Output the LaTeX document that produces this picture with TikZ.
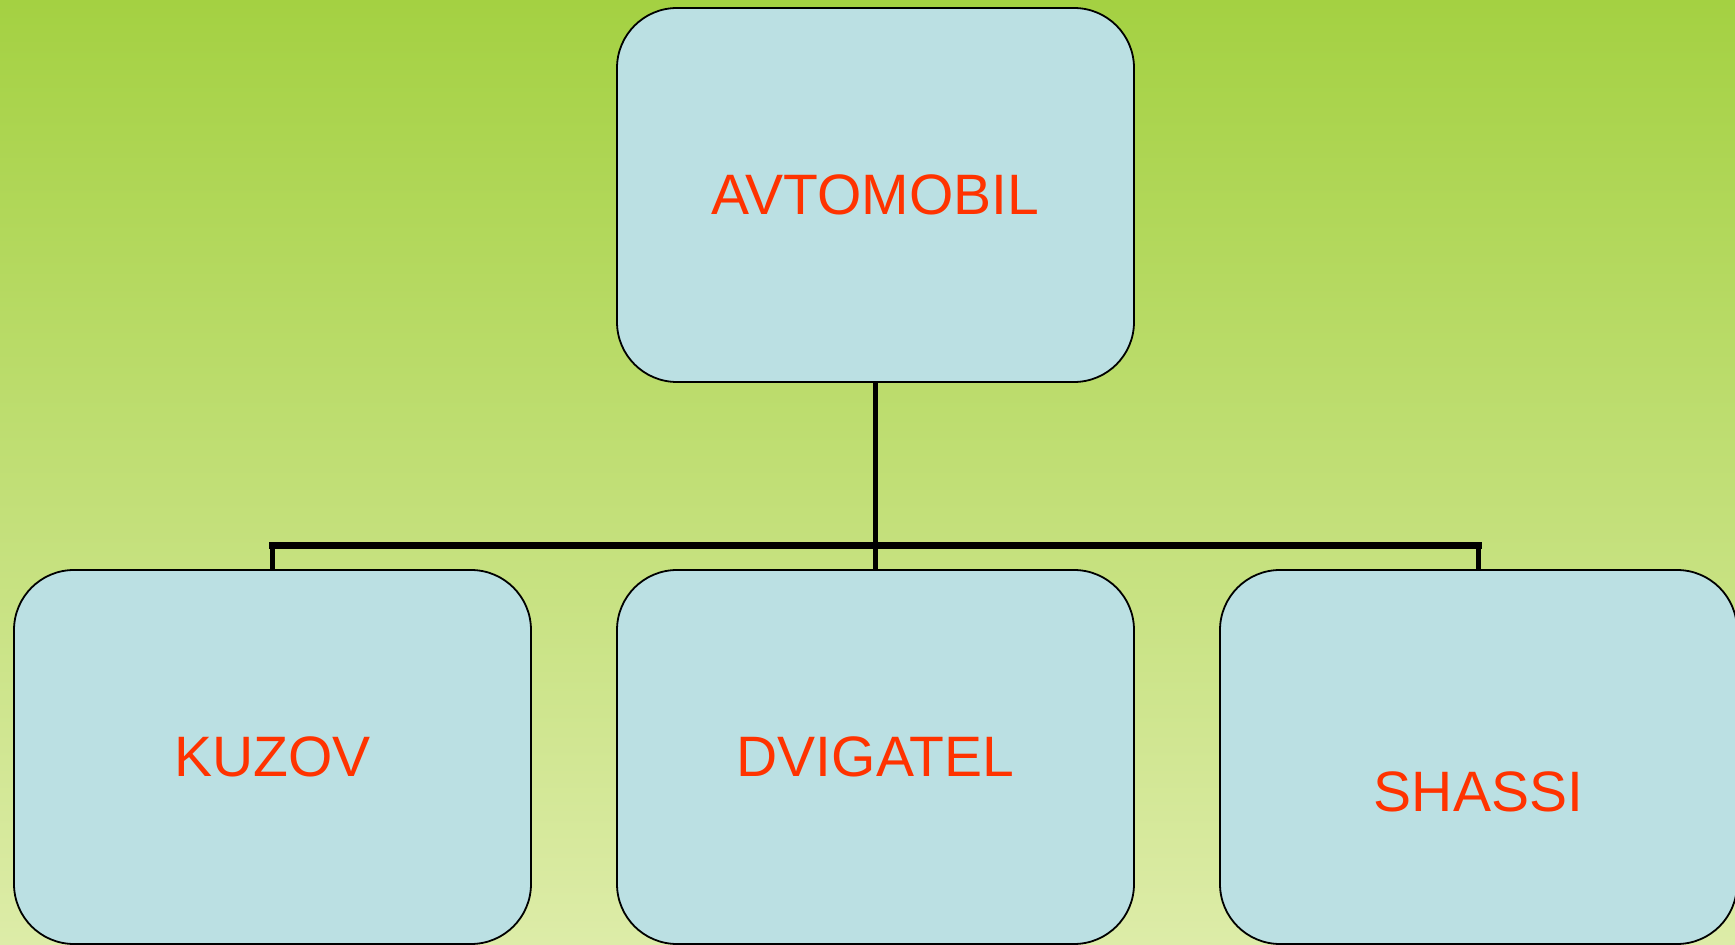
\documentclass[tikz,border=0pt]{standalone}
\usepackage{fontspec}
\setmainfont{Liberation Sans}
\definecolor{bgtop}{RGB}{164,209,66}
\definecolor{bgbot}{RGB}{221,236,168}
\definecolor{boxfill}{RGB}{187,224,227}
\definecolor{labelred}{RGB}{255,51,0}
\tikzset{
  unitbox/.style={draw=black, line width=0.9pt, fill=boxfill,
    rounded corners=30pt, minimum width=258.5pt, minimum height=187pt,
    inner sep=0pt, text=labelred, font=\fontsize{28.5}{34}\selectfont},
  caption/.style={inner sep=0pt, text=labelred, font=\fontsize{28.5}{34}\selectfont},
  link/.style={draw=black, line width=2.8pt},
}
\begin{document}
\begin{tikzpicture}[x=0.5pt, y=-0.5pt]
  \useasboundingbox (0,0) rectangle (1735,945);
  \clip (0,0) rectangle (1735,945);
  \shade[top color=bgtop, bottom color=bgbot] (0,0) rectangle (1735,945);

  % tree connectors
  \coordinate (bus) at (875.5,545.5);

  % boxes
  \node[unitbox] (top)    at (875.5,195)  {AVTOMOBIL};
  \node[unitbox] (kuzov)  at (272.5,757)  {KUZOV};
  \node[unitbox] (dvig)   at (875.5,757)  {DVIGATEL};
  \node[unitbox] (shassi) at (1478.5,757) {};
  \node[caption] (shassitext) at ([yshift=-17.5pt]shassi.center) {SHASSI};

  \draw[link] (top.south) -- (bus);
  \draw[link, line width=3.2pt, line cap=rect] (bus -| kuzov.north) -- (bus -| shassi.north);
  \draw[link] (bus -| kuzov.north) -- (kuzov.north);
  \draw[link] (bus -| dvig.north) -- (dvig.north);
  \draw[link] (bus -| shassi.north) -- (shassi.north);
\end{tikzpicture}
\end{document}
